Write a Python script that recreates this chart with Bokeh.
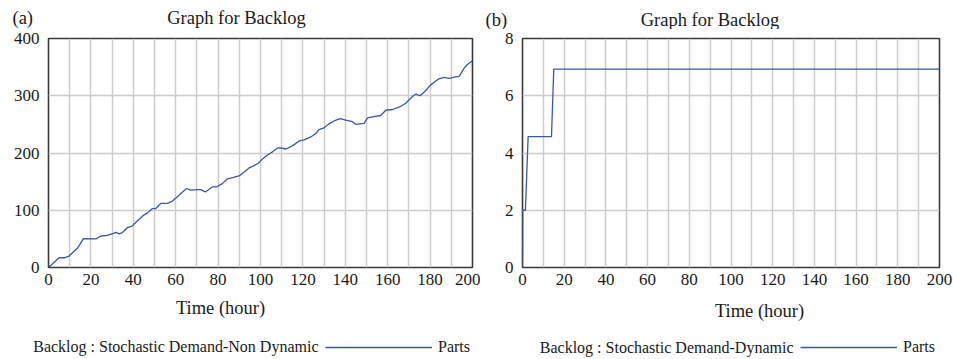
from bokeh.plotting import figure
from bokeh.layouts import row, column
from bokeh.models import Range1d, FixedTicker, Label, Legend, LegendItem
from bokeh.embed import file_html
from bokeh.resources import INLINE

# ---- data ----
time_a = [0, 5, 7.4, 9.7, 13.7, 16.5, 22.4, 24.7, 27.8, 30.2, 31.7, 33.3, 34.9, 37.3, 39.3,
          42, 45.1, 46.6, 49, 50.6, 53, 56.2, 58.5, 60.8, 63.2, 65.2, 67.1, 70.3, 71.8, 74,
          77.4, 79.4, 82, 84.4, 86.8, 89.9, 92.3, 94.6, 97, 99.3, 100.9, 103.3, 105.7, 108,
          109.6, 112, 114.3, 116.2, 118.2, 120.6, 123.7, 126.1, 127.6, 130, 131.9, 134.7,
          137.6, 140.2, 143.4, 145, 148.9, 150.5, 152.8, 156.7, 159.1, 162.3, 166.2, 168.5,
          171.7, 173.3, 175.3, 177.5, 180.3, 183.8, 186.6, 189, 192.1, 193.7, 196, 197.6, 200]
backlog_a = [0, 17, 17, 20, 34, 50.5, 50, 55, 56, 59, 61.5, 58.6, 61, 70, 72,
             81.6, 92, 95, 103, 103, 112, 112, 116, 123.6, 132, 138, 135, 136, 136, 132,
             141, 141, 146.5, 155, 157, 160, 166.7, 174, 178, 183, 189.7, 196.6, 202, 208.6,
             209, 207, 211, 215.5, 221, 223, 228, 234, 241, 244, 250, 256,
             260, 257.5, 254.6, 250, 251.7, 261.5, 263, 265.5, 274.7, 276, 281.6, 287,
             298.8, 303, 300, 307.5, 319, 329, 332, 330.5, 333, 334, 347.7, 354.6, 361]

time_b = [0, 0.1, 1.4, 2.7, 13.9, 15.0, 200]
backlog_b = [0, 2.0, 2.0, 4.57, 4.57, 6.93, 6.93]

x_ticks = [0, 20, 40, 60, 80, 100, 120, 140, 160, 180, 200]
x_grid = [0, 10, 20, 30, 40, 50, 60, 70, 80, 90, 100, 110, 120, 130, 140, 150, 160, 170, 180, 190, 200]
y_ticks_a = [0, 100, 200, 300, 400]
y_ticks_b = [0, 2, 4, 6, 8]

title_text = "Graph for Backlog"
xlabel_text = "Time (hour)"
legend_a = "Backlog : Stochastic Demand-Non Dynamic"
legend_b = "Backlog : Stochastic Demand-Dynamic"
units_text = "Parts"

FONT = "Liberation Serif"
TXT = "#1a1a1a"
LINE = "#3d57a8"
GRID = "#cccccc"
NAN = float("nan")


def strip(width, height):
    s = figure(width=width, height=height, output_backend="svg", toolbar_location=None,
               x_range=Range1d(0, width), y_range=Range1d(height, 0),
               x_axis_type=None, y_axis_type=None, min_border=0)
    s.outline_line_color = None
    s.background_fill_color = "white"
    s.border_fill_color = "white"
    return s


def lab(fig, text, x, y, align, size):
    fig.add_layout(Label(x=x, y=y, text=text, text_font=FONT, text_font_size=size,
                         text_color=TXT, text_align=align, text_baseline="middle"))


def main_panel(width, height, mb_left, mb_right, mb_bottom, ymax, y_ticks, t, v):
    p = figure(width=width, height=height, output_backend="svg", toolbar_location=None,
               x_range=Range1d(0, 200), y_range=Range1d(0, ymax),
               min_border_left=mb_left, min_border_right=mb_right,
               min_border_top=9, min_border_bottom=mb_bottom)
    p.outline_line_color = "#3a3a3a"
    p.outline_line_width = 1.6
    p.background_fill_color = "white"
    p.border_fill_color = "white"
    for ax in (p.xaxis[0], p.yaxis[0]):
        ax.axis_line_color = None
        ax.major_tick_line_color = None
        ax.minor_tick_line_color = None
        ax.major_tick_out = 0
        ax.major_tick_in = 0
        ax.minor_tick_out = 0
        ax.minor_tick_in = 0
        ax.major_label_text_font = FONT
        ax.major_label_text_font_size = "17px"
        ax.major_label_text_color = TXT
    p.xaxis[0].ticker = FixedTicker(ticks=x_ticks)
    p.yaxis[0].ticker = FixedTicker(ticks=y_ticks)
    p.xaxis[0].major_label_standoff = 6
    p.yaxis[0].major_label_standoff = 9
    p.xgrid[0].ticker = FixedTicker(ticks=x_grid)
    p.ygrid[0].ticker = FixedTicker(ticks=y_ticks)
    for g in (p.xgrid[0], p.ygrid[0]):
        g.grid_line_color = GRID
        g.grid_line_width = 1.5
    p.line(t, v, line_color=LINE, line_width=1.3)
    return p


def bottom_strip(width, height, xl_x, xl_y, leg_text, leg_x, leg_y, sw_x, glyph_w):
    s = strip(width, height)
    lab(s, xlabel_text, xl_x, xl_y, "center", "18.5px")
    lab(s, leg_text, leg_x, leg_y, "right", "16px")
    sw = s.line(x=[NAN], y=[NAN], line_color=LINE, line_width=1.3)
    leg = Legend(items=[LegendItem(label=units_text, renderers=[sw])],
                 location=(sw_x, 3), orientation="horizontal",
                 glyph_width=glyph_w, glyph_height=16, label_height=16,
                 label_standoff=6, padding=0, margin=0, spacing=0,
                 border_line_color=None, background_fill_alpha=0,
                 label_text_font=FONT, label_text_font_size="16px",
                 label_text_color=TXT)
    s.add_layout(leg)
    return s


WA, WB = 480, 473
H_TOP, H_MAIN, H_BOT = 29, 267, 63

top_a = strip(WA, H_TOP)
lab(top_a, "(a)", 12, 17, "left", "18.5px")
lab(top_a, title_text, 236, 17, "center", "18.5px")

top_b = strip(WB, H_TOP)
lab(top_b, "(b)", 5, 19, "left", "18.5px")
lab(top_b, title_text, 229.5, 19, "center", "18.5px")

pa = main_panel(WA, H_MAIN, 48, 8, 26, 400, y_ticks_a, time_a, backlog_a)
pb = main_panel(WB, H_MAIN, 42, 14, 29, 8, y_ticks_b, time_b, backlog_b)

bot_a = bottom_strip(WA, H_BOT, 220, 11, legend_a, 318, 50, 325, 107)
bot_b = bottom_strip(WB, H_BOT, 279, 14, legend_b, 313, 51, 320, 97)

layout = column(row(top_a, top_b), row(pa, pb), row(bot_a, bot_b))
open("out.html", "w").write(file_html(layout, INLINE))
